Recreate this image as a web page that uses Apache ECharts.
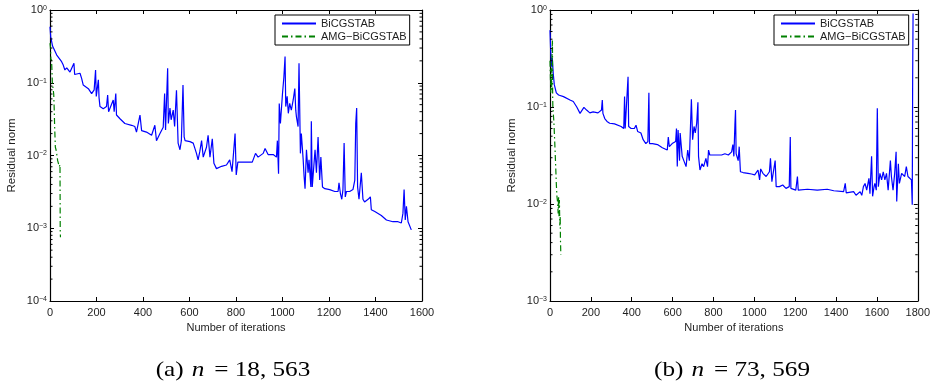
<!DOCTYPE html>
<html>
<head>
<meta charset="utf-8">
<script src="https://cdn.jsdelivr.net/npm/echarts@6/dist/echarts.min.js"></script>
<style>
html,body{margin:0;padding:0;background:#fff;}
#chart{width:933px;height:389px;}
</style>
</head>
<body>
<div id="chart"></div>
<script>
// ---------- data ----------
const xTicksA = [0, 1600];
const xTicksB = [0, 1800];
const yRangeA = [1e-4, 1];
const yRangeB = [1e-3, 1];
const seriesNames = ['BiCGSTAB', 'AMG\u2212BiCGSTAB'];
const captionA = ['(a)', 'n', '= 18, 563'];
const captionB = ['(b)', 'n', '= 73, 569'];

// (a) n = 18,563 : [iteration, residual norm]
const bicgA = [
[0,0.59],[3,0.43],[11,0.32],[29,0.24],[50,0.195],[57,0.175],[64,0.15],[72,0.16],[86,0.14],[103,0.185],
[106,0.13],[129,0.135],[136,0.115],[143,0.093],[165,0.083],[179,0.071],[190,0.08],[196,0.15],[199,0.065],[208,0.11],
[211,0.062],[215,0.047],[229,0.044],[243,0.047],[248,0.068],[252,0.040],[272,0.058],[276,0.04],[283,0.071],[286,0.036],
[301,0.032],[322,0.0275],[351,0.026],[365,0.025],[372,0.021],[387,0.036],[394,0.022],[415,0.021],[437,0.019],[451,0.026],
[458,0.016],[473,0.020],[487,0.0245],[493,0.071],[497,0.0225],[506,0.158],[509,0.0275],[516,0.045],[521,0.031],[530,0.042],
[536,0.025],[544,0.079],[551,0.0148],[559,0.012],[565,0.016],[572,0.093],[577,0.018],[581,0.016],[602,0.0155],[616,0.0148],
[630,0.0107],[637,0.0087],[644,0.0112],[652,0.016],[659,0.0095],[673,0.013],[680,0.019],[688,0.0095],[698,0.017],[705,0.0078],
[716,0.0066],[738,0.0071],[759,0.0074],[773,0.0087],[783,0.006],[788,0.0095],[796,0.020],[801,0.0054],[808,0.0081],[831,0.0081],
[859,0.0081],[870,0.0081],[884,0.0107],[895,0.0095],[917,0.0107],[925,0.0125],[938,0.0103],[960,0.0103],[974,0.0095],[978,0.016],
[983,0.0056],[986,0.052],[991,0.0275],[1000,0.071],[1006,0.12],[1011,0.23],[1014,0.047],[1020,0.065],[1025,0.038],[1031,0.052],
[1038,0.042],[1046,0.058],[1053,0.083],[1057,0.042],[1060,0.034],[1067,0.025],[1071,0.186],[1077,0.0107],[1081,0.020],[1089,0.0087],
[1093,0.0051],[1097,0.0035],[1103,0.012],[1110,0.0058],[1114,0.0087],[1122,0.0037],[1124,0.0295],[1128,0.0037],[1140,0.012],[1146,0.0058],
[1153,0.018],[1160,0.0046],[1165,0.0095],[1172,0.0037],[1182,0.0035],[1203,0.0034],[1225,0.0032],[1239,0.0032],[1243,0.0042],[1249,0.003],
[1255,0.0025],[1260,0.0034],[1265,0.0148],[1270,0.0027],[1275,0.0032],[1289,0.0032],[1303,0.0034],[1311,0.0046],[1315,0.0275],[1319,0.045],
[1323,0.0037],[1329,0.0025],[1339,0.0058],[1346,0.0025],[1353,0.0023],[1368,0.0025],[1378,0.0027],[1382,0.0018],[1397,0.0017],[1411,0.0016],
[1425,0.0015],[1447,0.0013],[1475,0.00123],[1497,0.00123],[1511,0.00118],[1518,0.0016],[1523,0.0034],[1528,0.0013],[1533,0.002],[1540,0.00123],
[1547,0.0013],[1554,0.00095]
];
const amgA = [
[0,0.35],[2,0.3],[4,0.2],[6,0.22],[8,0.16],[10,0.1],[14,0.1],[16,0.07],[18,0.045],[20,0.025],
[23,0.013],[26,0.012],[30,0.01],[33,0.0085],[36,0.009],[40,0.007],[43,0.0075],[44,0.0009],[45,0.00075]
];

// (b) n = 73,569
const bicgB = [
[0,0.62],[3,0.39],[8,0.26],[11,0.32],[16,0.22],[21,0.17],[31,0.14],[42,0.133],[66,0.128],[98,0.118],
[114,0.114],[131,0.10],[147,0.086],[155,0.083],[166,0.099],[179,0.093],[195,0.087],[211,0.089],[235,0.087],[252,0.093],
[256,0.118],[259,0.086],[268,0.076],[279,0.071],[292,0.068],[316,0.067],[324,0.064],[348,0.063],[361,0.060],[365,0.128],
[368,0.060],[374,0.060],[382,0.205],[385,0.063],[397,0.060],[413,0.060],[421,0.065],[429,0.056],[445,0.054],[456,0.046],
[469,0.042],[479,0.044],[484,0.14],[487,0.042],[502,0.042],[526,0.041],[550,0.038],[574,0.036],[579,0.049],[584,0.039],
[598,0.042],[615,0.044],[619,0.060],[623,0.0243],[627,0.058],[634,0.028],[637,0.054],[647,0.031],[655,0.028],[666,0.0243],
[674,0.036],[682,0.028],[692,0.12],[698,0.046],[705,0.063],[711,0.054],[718,0.068],[724,0.112],[727,0.031],[734,0.0224],
[744,0.026],[752,0.0243],[763,0.0296],[771,0.0243],[776,0.036],[782,0.032],[808,0.032],[840,0.032],[856,0.033],[873,0.032],
[889,0.0345],[895,0.041],[900,0.031],[905,0.065],[908,0.093],[911,0.033],[921,0.028],[926,0.039],[932,0.0215],[945,0.0211],
[969,0.0207],[986,0.0204],[1002,0.020],[1018,0.0224],[1026,0.0177],[1031,0.023],[1042,0.0207],[1058,0.0192],[1074,0.0215],[1079,0.0296],
[1086,0.017],[1095,0.0163],[1102,0.028],[1107,0.0151],[1123,0.0151],[1139,0.0157],[1155,0.0145],[1171,0.0151],[1176,0.049],[1179,0.0145],
[1203,0.0139],[1211,0.0192],[1215,0.0139],[1260,0.0142],[1308,0.0139],[1357,0.0142],[1389,0.0137],[1437,0.0134],[1445,0.0163],[1450,0.013],
[1486,0.0134],[1498,0.0123],[1518,0.0134],[1526,0.0123],[1534,0.0151],[1542,0.0163],[1550,0.0139],[1561,0.0184],[1566,0.0128],[1574,0.031],
[1579,0.012],[1586,0.0151],[1590,0.0163],[1597,0.0139],[1602,0.097],[1607,0.0151],[1615,0.0207],[1623,0.0177],[1631,0.0215],[1639,0.0177],
[1647,0.0207],[1655,0.0139],[1666,0.028],[1671,0.0192],[1679,0.0139],[1687,0.0207],[1694,0.0345],[1697,0.0106],[1703,0.0207],[1705,0.026],
[1710,0.0163],[1721,0.0207],[1736,0.0192],[1744,0.0243],[1752,0.0192],[1760,0.020],[1769,0.0177],[1773,0.0098],[1775,0.19],[1777,0.92]
];
const amgB = [
[0,0.3],[2,0.2],[4,0.14],[6,0.25],[8,0.15],[10,0.35],[12,0.49],[13,0.13],[14,0.1],[16,0.1],
[19,0.07],[22,0.05],[25,0.035],[28,0.024],[31,0.016],[34,0.012],[37,0.0105],[40,0.008],[42,0.012],[44,0.0075],
[46,0.011],[48,0.006],[50,0.0075],[51,0.0045],[53,0.003]
];

// minor tick values on the log axes
const minorTicksA = [0.0002,0.0003,0.0004,0.0005,0.0006,0.0007,0.0008,0.0009,
  0.002,0.003,0.004,0.005,0.006,0.007,0.008,0.009,
  0.02,0.03,0.04,0.05,0.06,0.07,0.08,0.09,
  0.2,0.3,0.4,0.5,0.6,0.7,0.8,0.9];
const minorTicksB = [0.002,0.003,0.004,0.005,0.006,0.007,0.008,0.009,
  0.02,0.03,0.04,0.05,0.06,0.07,0.08,0.09,
  0.2,0.3,0.4,0.5,0.6,0.7,0.8,0.9];

// ---------- chart ----------
const FONT = '"Liberation Sans", Arial, Helvetica, sans-serif';
const SERIF = '"Liberation Serif", "DejaVu Serif", serif';
const TXT = '#1e1e1e';
const chart = echarts.init(document.getElementById('chart'), null, {renderer: 'canvas'});

function expLabel(v) {
  const e = Math.round(Math.log10(v));
  const s = e === 0 ? '0' : '\u2212' + (-e);
  return '{b|10}{s|' + s + '}';
}
const expRich = {
  b: {fontSize: 11, fontFamily: FONT, color: TXT, lineHeight: 11, verticalAlign: 'middle'},
  s: {fontSize: 7, fontFamily: FONT, color: TXT, lineHeight: 7, padding: [0, 0, 12, 0], verticalAlign: 'top'}
};

function grids() {
  return [
    {left: 50, top: 10, width: 372, height: 291, show: false},
    {left: 550, top: 10, width: 372, height: 291, show: false}
  ];
}

function xAxes(gi, range) {
  const common = {
    type: 'value', gridIndex: gi, min: range[0], max: range[1], interval: 200,
    splitLine: {show: false},
    axisLine: {show: true, onZero: false, lineStyle: {color: '#000', width: 1.2}},
    axisTick: {show: true, inside: true, length: 4, lineStyle: {color: '#000', width: 1}}
  };
  return [
    Object.assign({}, common, {
      position: 'bottom',
      name: 'Number of iterations', nameLocation: 'middle', nameGap: 20,
      nameTextStyle: {fontSize: 11, fontFamily: FONT, color: TXT},
      axisLabel: {show: true, fontSize: 11, fontFamily: FONT, color: TXT, margin: 6,
        formatter: function (v) { return String(v); }}
    }),
    Object.assign({}, common, {position: 'top', axisLabel: {show: false}})
  ];
}

function yAxes(gi, range) {
  const common = {
    type: 'log', logBase: 10, gridIndex: gi, min: range[0], max: range[1],
    splitLine: {show: false},
    axisLine: {show: true, onZero: false, lineStyle: {color: '#000', width: 1.2}},
    axisTick: {show: true, inside: true, length: 4, lineStyle: {color: '#000', width: 1}}
  };
  return [
    Object.assign({}, common, {
      position: 'left',
      name: 'Residual norm', nameLocation: 'middle', nameGap: 32, nameRotate: 90,
      nameTextStyle: {fontSize: 11.5, fontFamily: FONT, color: TXT},
      axisLabel: {show: true, margin: 3, formatter: expLabel, rich: expRich}
    }),
    Object.assign({}, common, {position: 'right', axisLabel: {show: false}})
  ];
}

function minorSeries(xi, yi, xmax, vals) {
  return {
    type: 'custom', xAxisIndex: xi, yAxisIndex: yi, silent: true, z: 10,
    data: vals.map(v => [0, v]),
    renderItem: function (params, api) {
      const v = api.value(1);
      const p0 = api.coord([0, v]);
      const p1 = api.coord([xmax, v]);
      const st = {stroke: '#000', lineWidth: 1};
      return {type: 'group', children: [
        {type: 'line', shape: {x1: p0[0], y1: p0[1], x2: p0[0] + 2.5, y2: p0[1]}, style: st},
        {type: 'line', shape: {x1: p1[0] - 2.5, y1: p1[1], x2: p1[0], y2: p1[1]}, style: st}
      ]};
    }
  };
}

function lineSeries(name, xi, yi, data, color, dashed) {
  return {
    name: name, type: 'line', xAxisIndex: xi, yAxisIndex: yi, data: data,
    symbol: 'none', showSymbol: false, smooth: false, z: 3,
    lineStyle: {color: color, width: 1.2, type: dashed ? [6, 3, 1.5, 3] : 'solid'},
    itemStyle: {color: color}
  };
}

function legendAt(left) {
  return {
    left: left, top: 15, orient: 'vertical',
    data: seriesNames,
    backgroundColor: '#fff', borderColor: '#000', borderWidth: 1,
    padding: [3, 3, 3, 6], itemGap: 2, itemWidth: 34, itemHeight: 12,
    itemStyle: {opacity: 0},
    textStyle: {fontSize: 11, fontFamily: FONT, color: TXT},
    selectedMode: false
  };
}

function caption(cx, parts) {
  return {
    type: 'text', x: cx, y: 370, scaleX: 1.2,
    style: {
      text: '{t|' + parts[0] + '}  {i|' + parts[1] + '}{t| ' + parts[2] + '}',
      align: 'center', verticalAlign: 'middle',
      rich: {
        t: {fontSize: 21, fontFamily: SERIF, fill: '#000'},
        i: {fontSize: 21, fontStyle: 'italic', fontFamily: SERIF, fill: '#000', padding: [0, 3, 0, 0]}
      }
    }
  };
}

const option = {
  animation: false,
  backgroundColor: '#fff',
  grid: grids(),
  xAxis: [].concat(xAxes(0, xTicksA), xAxes(1, xTicksB)),
  yAxis: [].concat(yAxes(0, yRangeA), yAxes(1, yRangeB)),
  legend: [legendAt(275), legendAt(774)],
  series: [
    lineSeries(seriesNames[0], 0, 0, bicgA, '#0000ff', false),
    lineSeries(seriesNames[1], 0, 0, amgA, '#008000', true),
    lineSeries(seriesNames[0], 2, 2, bicgB, '#0000ff', false),
    lineSeries(seriesNames[1], 2, 2, amgB, '#008000', true),
    minorSeries(0, 0, xTicksA[1], minorTicksA),
    minorSeries(2, 2, xTicksB[1], minorTicksB)
  ],
  graphic: [caption(233, captionA), caption(732, captionB)]
};
chart.setOption(option);
</script>
</body>
</html>
